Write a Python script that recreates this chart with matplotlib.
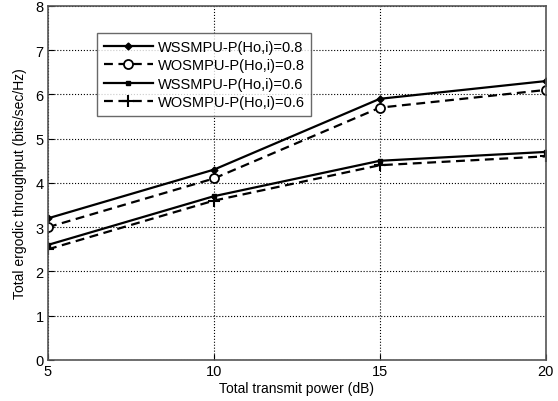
import matplotlib
matplotlib.use("Agg")
import matplotlib.pyplot as plt

plt.rcParams['font.family'] = ['Liberation Sans', 'DejaVu Sans']

power = [5, 10, 15, 20]
wss_08 = [3.2, 4.3, 5.9, 6.3]
wos_08 = [3.0, 4.1, 5.7, 6.1]
wss_06 = [2.6, 3.7, 4.5, 4.7]
wos_06 = [2.5, 3.6, 4.4, 4.6]
labels = ['WSSMPU-P(Ho,i)=0.8', 'WOSMPU-P(Ho,i)=0.8',
          'WSSMPU-P(Ho,i)=0.6', 'WOSMPU-P(Ho,i)=0.6']

fig = plt.figure(figsize=(5.58, 4.02), dpi=100)
ax = fig.add_axes([0.086, 0.102, 0.892, 0.881])

dash = (0, (4, 2.5))
ax.plot(power, wss_08, '-', color='black', lw=1.6, marker='D', ms=3.5, label=labels[0])
ax.plot(power, wos_08, linestyle=dash, color='black', lw=1.6, marker='o', ms=6.5,
        mfc='white', mew=1.3, label=labels[1])
ax.plot(power, wss_06, '-', color='black', lw=1.6, marker='s', ms=2.5, label=labels[2])
ax.plot(power, wos_06, linestyle=dash, color='black', lw=1.6, marker='+', ms=8,
        mew=1.5, label=labels[3])

ax.set_xlim(5, 20)
ax.set_ylim(0, 8)
ax.set_xticks([5, 10, 15, 20])
ax.set_yticks(range(0, 9))
ax.grid(True, color='black', linestyle=':', linewidth=0.8)
ax.tick_params(direction='in', labelsize=10.5, length=4, pad=3)
for s in ax.spines.values():
    s.set_color('#555555')
    s.set_linewidth(1.2)
ax.set_xlabel('Total transmit power (dB)', fontsize=10, labelpad=2)
ax.set_ylabel('Total ergodic throughput (bits/sec/Hz)', fontsize=10, labelpad=6)

leg = ax.legend(loc='upper left', bbox_to_anchor=(0.084, 0.943), fontsize=10.5,
                handlelength=3.4, frameon=True, fancybox=False, edgecolor='#444444',
                borderpad=0.45, labelspacing=0.3, handletextpad=0.3)
leg.get_frame().set_linewidth(1.0)

fig.savefig('out.png', dpi=100)
